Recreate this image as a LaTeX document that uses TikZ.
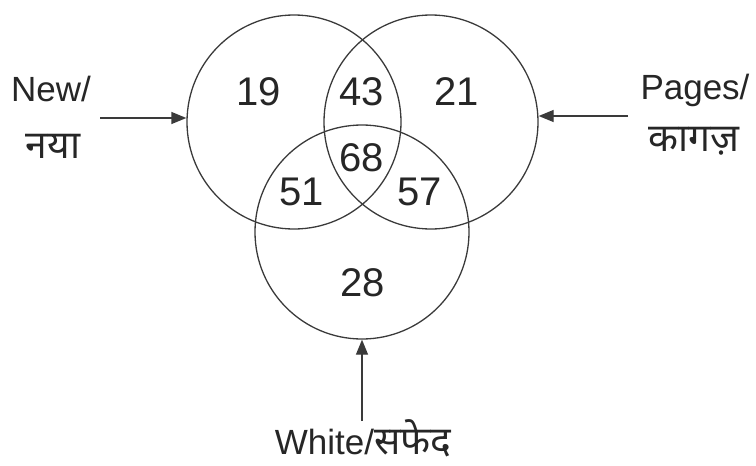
\documentclass[tikz,border=0pt]{standalone}
\usepackage{fontspec}
\setmainfont{Liberation Sans}
\newfontfamily\deva[Script=Devanagari]{Noto Sans}
\usetikzlibrary{arrows.meta}
\definecolor{ink}{HTML}{262626}
\definecolor{linec}{HTML}{3A3A3A}
\newcommand{\dv}[1]{{\deva\fontsize{39}{40}\selectfont #1}}
\begin{document}
\begin{tikzpicture}[x=1pt,y=-1pt,
  setc/.style={circle, draw=linec, line width=1.3pt, minimum size=214pt, inner sep=0pt},
  num/.style={text=ink, font=\fontsize{40}{42}\selectfont, inner sep=0pt},
  lbl/.style={text=ink, font=\fontsize{35}{37}\selectfont, inner sep=0pt, align=center},
  arr/.style={draw=linec, line width=1.3pt, -{Triangle[length=15pt,width=12pt]}}]
\useasboundingbox (0,0) rectangle (756,466);
\node[setc] (A) at (294,122) {};
\node[setc] (B) at (431,122) {};
\node[setc] (C) at (362,232) {};
\node[num] (n19) at (259,92) {19};
\node[num] (n43) at (362,92) {43};
\node[num] (n21) at (457,92) {21};
\node[num] (n68) at (362,158) {68};
\node[num] (n51) at (302,192) {51};
\node[num] (n57) at (420,192) {57};
\node[num] (n28) at (363,283) {28};
\node[lbl] (new) at (51,89) {New/};
\node[lbl] (naya) at (53,146) {\dv{नया}};
\node[lbl] (pages) at (695,90) {Pages/};
\node[lbl] (kagaz) at (694,141) {\dv{कागज़}};
\node[lbl, anchor=base] (white) at (363,454) {White/\dv{सफेद}};
\coordinate (pa) at (100,118);
\coordinate (pb) at (628,116);
\coordinate (pc) at (362,421);
\draw[arr] (pa) -- (A.west |- pa);
\draw[arr] (pb) -- (B.east |- pb);
\draw[arr] (pc) -- (C.south);
\end{tikzpicture}
\end{document}
